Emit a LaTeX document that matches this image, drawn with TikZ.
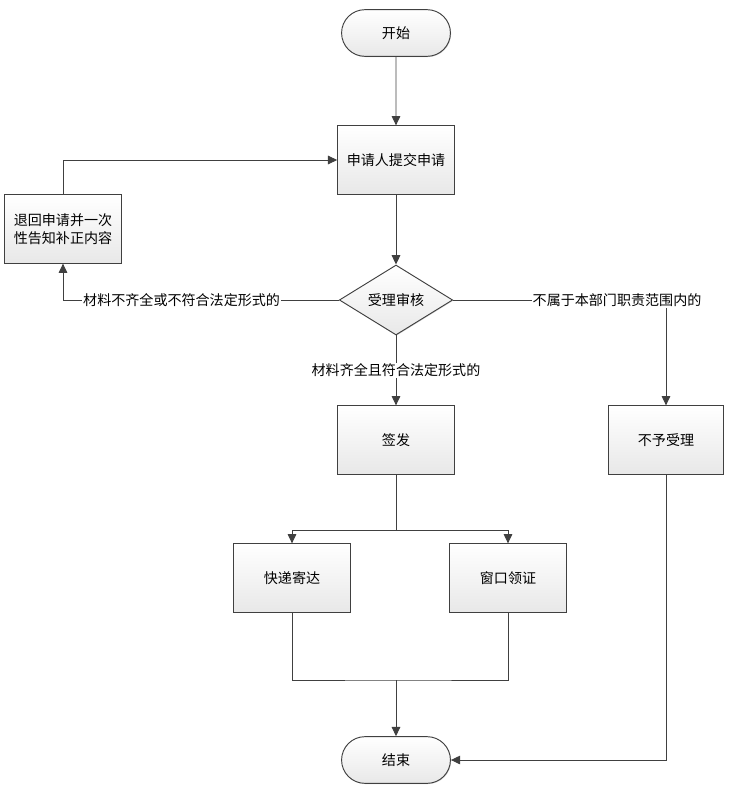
\documentclass[tikz,border=0pt]{standalone}
\usepackage{fontspec}
\setmainfont{Noto Sans CJK SC}
\usetikzlibrary{arrows.meta,positioning,shapes.geometric,shapes.misc,shadows}
\definecolor{lnc}{HTML}{404040}

\begin{document}
\begin{tikzpicture}[x=0.03cm,y=-0.03cm,
  every node/.style={font=\fontsize{12}{15}\selectfont},
  box/.style={draw=lnc,line width=0.8pt,align=center,minimum width=3.5cm,minimum height=2.05cm,
    top color=white,bottom color=gray!18,drop shadow={shadow xshift=0.6pt,shadow yshift=-0.6pt,fill=gray!70}},
  term/.style={box,rounded rectangle,minimum width=3.5cm,minimum height=1.4cm},
  dec/.style={box,diamond,aspect=1.6,inner sep=0pt,minimum width=3.4cm,minimum height=2.1cm},
  lbl/.style={fill=white,inner sep=1pt},
  ar/.style={-{Triangle[length=2.8mm,width=2.6mm]},draw=lnc,line width=0.8pt}]
\useasboundingbox (0,0) rectangle (735,790);
\node[term] (start) at (396,33) {开始};
\node[box] (submit) at (396,160) {申请人提交申请};
\node[box] (back) at (63,229) {退回申请并一次\\性告知补正内容};
\node[dec] (check) at (396,300) {受理审核};
\node[box] (issue) at (396,440) {签发};
\node[box,minimum width=3.45cm] (reject) at (666,440) {不予受理};
\node[box] (post) at (292,578) {快递寄达};
\node[box] (window) at (508,578) {窗口领证};
\node[term] (end) at (396,760) {结束};
\coordinate (split) at (396,530);
\coordinate (merge) at (396,680);
\draw[ar] (start) -- (submit);
\draw[ar] (submit) -- (check);
\draw[ar] (check.west) -| node[lbl,pos=0.285]{材料不齐全或不符合法定形式的} (back.south);
\draw[ar] (back.north) |- (submit.west);
\draw[ar] (check.east) -| node[lbl,pos=0.385]{不属于本部门职责范围内的} (reject.north);
\draw[ar] (check.south) -- node[lbl]{材料齐全且符合法定形式的} (issue.north);
\draw[lnc,line width=0.8pt] (issue.south) -- (split);
\draw[ar] (split) -| (post.north);
\draw[ar] (split) -| (window.north);
\draw[lnc,line width=0.8pt] (post.south) |- (merge) -| (window.south);
\draw[ar] (merge) -- (end.north);
\draw[ar] (reject.south) |- (end.east);
\end{tikzpicture}
\end{document}
